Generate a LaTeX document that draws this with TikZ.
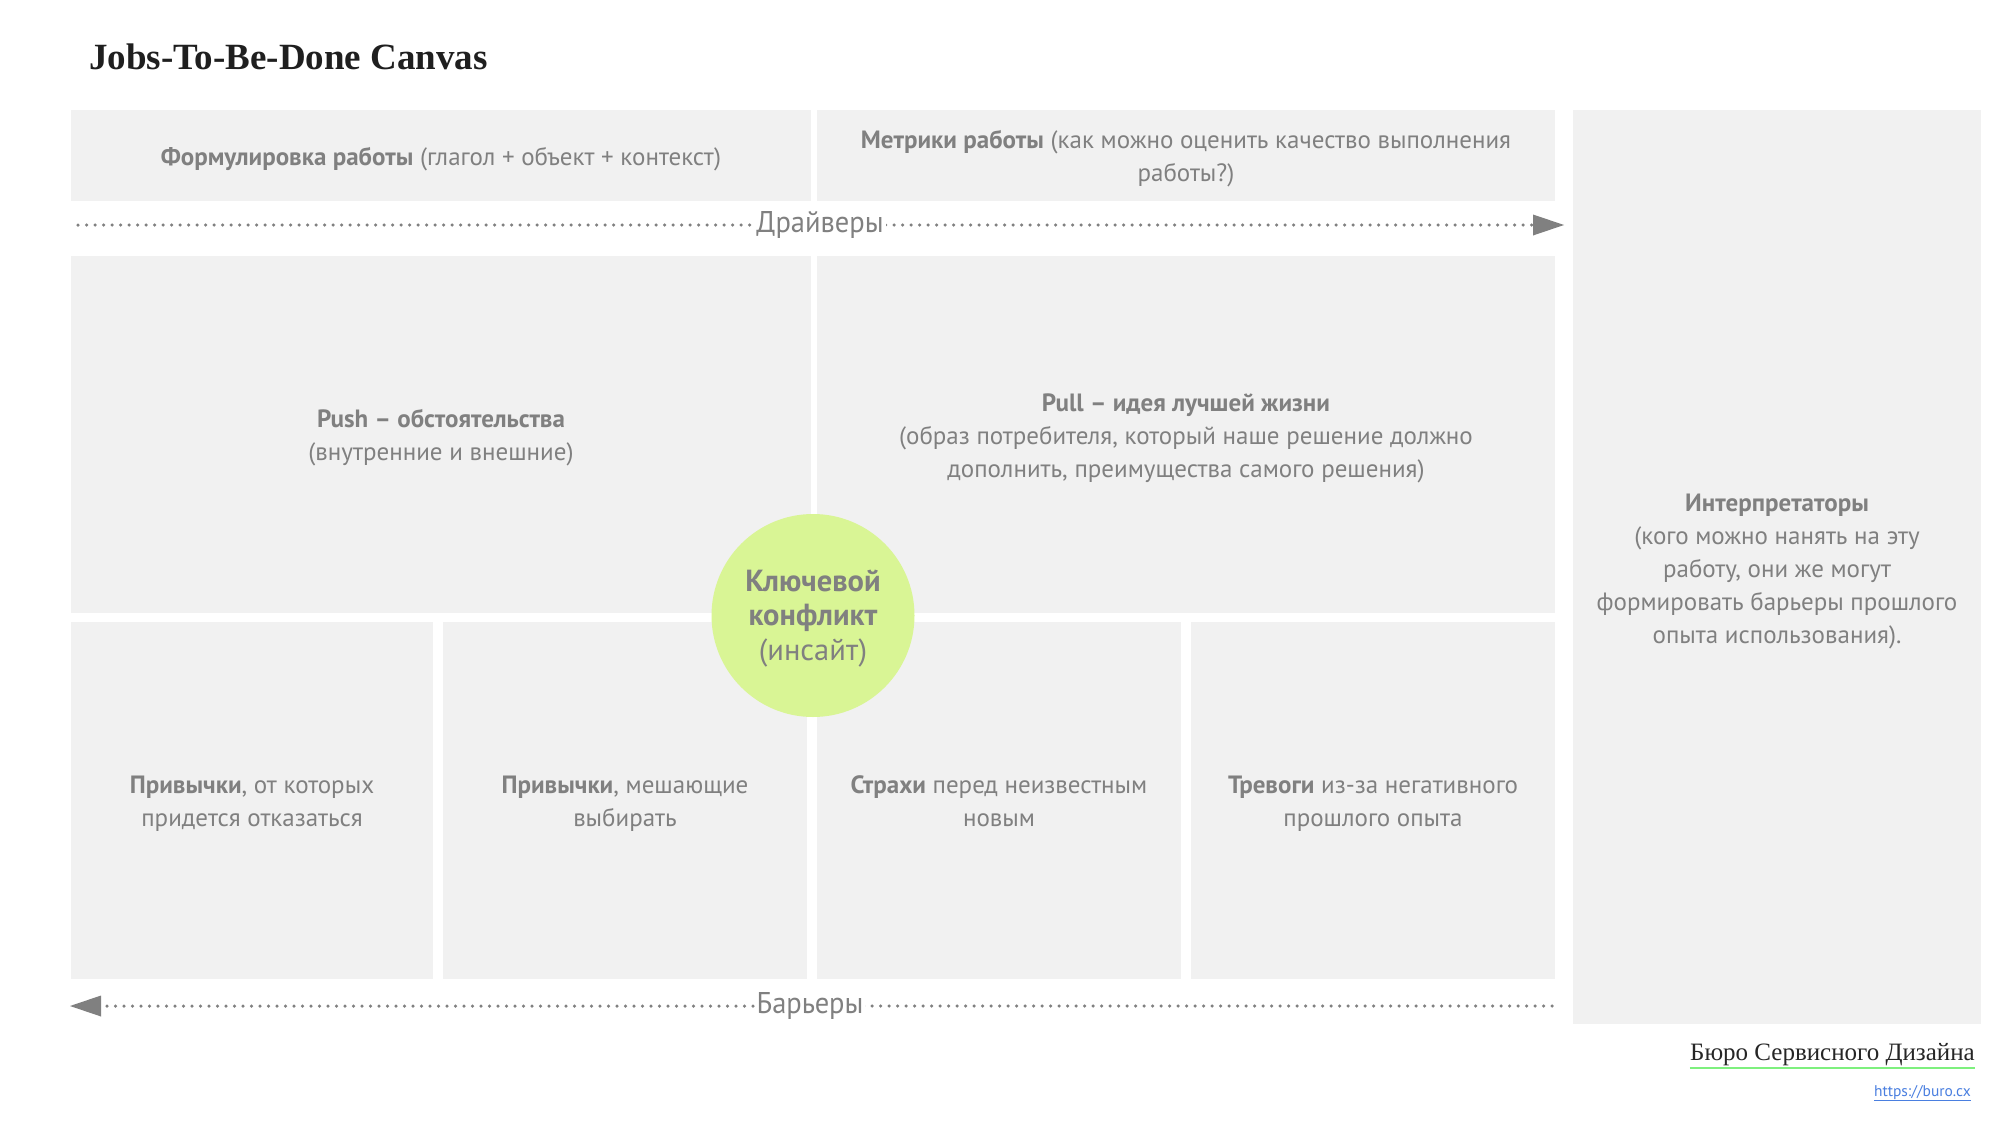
\documentclass[tikz,border=0pt]{standalone}
\usepackage{fontspec}
\setmainfont{PT Sans}
\newfontfamily\narrowfont[FakeStretch=0.95]{PT Sans}
\newfontfamily\seriffont{Liberation Serif}
\usetikzlibrary{arrows.meta,calc}
\definecolor{boxgray}{HTML}{F1F1F1}
\definecolor{txtgray}{HTML}{808080}
\definecolor{circgreen}{HTML}{D9F595}
\definecolor{ulgreen}{HTML}{7EF07E}
\definecolor{linkblue}{HTML}{4A7FE0}
\tikzset{
  box/.style={fill=boxgray, draw=none, inner sep=0pt},
  txt/.style={inner sep=0pt, align=center, text=txtgray, font=\fontsize{25}{33}\selectfont},
  dotline/.style={draw=txtgray, line width=3.5pt, line cap=round, dash pattern=on 0pt off 8.5pt},
  tip/.style={-{Triangle[length=31pt,width=21pt,fill=txtgray,line width=0pt]}},
  lbl/.style={fill=white, text=txtgray, inner sep=2pt, font=\narrowfont\fontsize{30}{32}\selectfont},
}
\begin{document}
\begin{tikzpicture}[x=1pt,y=-1pt]
\useasboundingbox (0,0) rectangle (2015,1121);
\fill[white] (0,0) rectangle (2015,1121);
% title
\node[anchor=west, inner sep=0pt, font=\seriffont\bfseries\fontsize{37}{40}\selectfont, text=black!88] (title) at (89,57) {Jobs-To-Be-Done Canvas};
% boxes
\node[box, minimum width=740pt, minimum height=90pt] (form) at (441,155.5) {};
\node[box, minimum width=738pt, minimum height=90pt] (metric) at (1186,155.5) {};
\node[box, minimum width=740pt, minimum height=357pt] (push) at (441,434.5) {};
\node[box, minimum width=738pt, minimum height=357pt] (pull) at (1186,434.5) {};
\node[box, minimum width=362pt, minimum height=357pt] (b1) at (252,800.5) {};
\node[box, minimum width=364pt, minimum height=357pt] (b2) at (625,800.5) {};
\node[box, minimum width=364pt, minimum height=357pt] (b3) at (999,800.5) {};
\node[box, minimum width=364pt, minimum height=357pt] (b4) at (1373,800.5) {};
\node[box, minimum width=408pt, minimum height=913.5pt] (interp) at (1777,567) {};
% box texts
\node[txt] (formtxt) at ([yshift=-3.5pt]form.center) {\textbf{Формулировка работы} (глагол + объект + контекст)};
\node[txt] (metrictxt) at ([yshift=-3.5pt]metric.center) {\textbf{Метрики работы} (как можно оценить качество выполнения\\работы?)};
\node[txt] (pushtxt) at ([yshift=-3.5pt]push.center) {\textbf{Push – обстоятельства}\\(внутренние и внешние)};
\node[txt] (pulltxt) at ([yshift=-3.5pt]pull.center) {\textbf{Pull – идея лучшей жизни}\\(образ потребителя, который наше решение должно\\дополнить, преимущества самого решения)};
\node[txt] (b1txt) at ([yshift=-3.5pt]b1.center) {\textbf{Привычки}, от которых\\придется отказаться};
\node[txt] (b2txt) at ([yshift=-3.5pt]b2.center) {\textbf{Привычки}, мешающие\\выбирать};
\node[txt] (b3txt) at ([yshift=-1pt]b3.center) {\textbf{Страхи} перед неизвестным\\новым};
\node[txt] (b4txt) at ([yshift=-3.5pt]b4.center) {\textbf{Тревоги} из-за негативного\\прошлого опыта};
\node[txt] (interptxt) at ([yshift=-4pt]interp.center) {\textbf{Интерпретаторы}\\(кого можно нанять на эту\\работу, они же могут\\формировать барьеры прошлого\\опыта использования).};
% circle
\node[circle, fill=circgreen, minimum size=203pt, inner sep=0pt] (key) at (813,615.5) {};
\node[txt, font=\fontsize{30.5}{34.7}\selectfont] (keytxt) at ([yshift=-3pt]key.center) {\textbf{Ключевой}\\\textbf{конфликт}\\(инсайт)};
% drivers arrow
\coordinate (dstart) at (78,225);
\coordinate (dend) at (1564,225);
\draw[dotline, tip] (dstart) -- (dend);
\node[lbl] (drivers) at (820,225) {Драйверы};
% barriers arrow
\coordinate (bstart) at (1552,1006);
\coordinate (bend) at (70,1006);
\draw[dotline, tip] (bstart) -- (bend);
\node[lbl] (barriers) at (810,1006) {Барьеры};
% footer
\node[anchor=base east, inner sep=0pt, font=\seriffont\fontsize{25}{28}\selectfont, text=black!85] (bureau) at (1975,1060) {Бюро Сервисного Дизайна};
\draw[ulgreen, line width=2.5pt] ([yshift=-8pt]bureau.base west) -- ([yshift=-8pt]bureau.base east);
\node[anchor=base east, inner sep=0pt, font=\fontsize{15.5}{17}\selectfont, text=linkblue] (url) at (1971,1096) {\underline{https://buro.cx}};
\end{tikzpicture}
\end{document}
